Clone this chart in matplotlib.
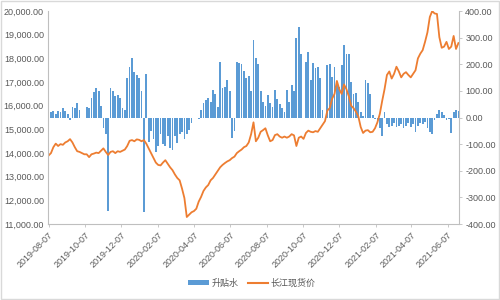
import matplotlib
matplotlib.use('Agg')
import matplotlib.pyplot as plt
import matplotlib.dates as mdates
from matplotlib.patches import Patch, Rectangle
from matplotlib.lines import Line2D
from matplotlib.ticker import FuncFormatter, MultipleLocator
import pandas as pd

plt.rcParams['font.family'] = ['Liberation Sans', 'Noto Sans CJK SC', 'DejaVu Sans']

start_date = '2019-08-07'

# 长江现货价 (left axis), sampled every 4 days
price = [
    13900, 14000, 14250, 14400, 14300, 14380, 14350, 14450, 14500, 14590,
    14450, 14250, 14080, 14050, 14000, 13950, 13950, 13830, 13950, 13980,
    14020, 14000, 14100, 14200, 14050, 13920, 14050, 14080, 14000, 14080,
    14050, 14100, 14150, 14300, 14520, 14550, 14500, 14580, 14560, 14500,
    14550, 14400, 14200, 14000, 13800, 13600, 13500, 13480, 13600, 13700,
    13550, 13400, 13280, 13100, 12950, 12850, 12500, 12100, 11300, 11400,
    11500, 11550, 11650, 11950, 12150, 12400, 12550, 12650, 12850, 12950,
    13100, 13250, 13400, 13500, 13580, 13650, 13700, 13790, 13850, 14000,
    14080, 14150, 14250, 14300, 14450, 14800, 15300, 14500, 14650, 14900,
    14970, 15050, 14750, 14500, 14550, 14760, 14800, 14700, 14650, 14700,
    14650, 14700, 14800, 14750, 14300, 14650, 14700, 14600, 14850, 14950,
    14900, 14880, 14930, 14900, 15050, 15200, 15350, 15800, 15900, 16300,
    16500, 17050, 16700, 16500, 16900, 16700, 16400, 16000, 15900, 15750,
    15550, 15100, 14850, 14950, 14970, 14880, 14900, 15050, 15300, 15650,
    16200, 16700, 17300, 17450, 17150, 17350, 17650, 17450, 17200, 17350,
    17420, 17300, 17200, 17350, 17500, 18000, 18200, 18350, 18700, 19100,
    19750, 20000, 19900, 19880, 18900, 18450, 18500, 18700, 18400, 18500,
    18950, 18400, 18650,
]

# 升贴水 (right axis), same sampling
premium = [
    30, 20, 25, 15, 25, 20, 35, 25, 15, -8,
    40, 35, 55, 30, 0, 0, 40, 35, 75, 95,
    110, 100, 45, -40, -60, -350, 110, 100, 80, 85,
    75, 35, 30, 150, 190, 225, 170, 160, 150, 100,
    -355, 165, -90, -50, -80, -130, -105, -60, -100, -105,
    -70, -115, -120, -70, -95, -60, -55, -80, -60, -45,
    -20, 0, 0, -5, 30, 55, 65, 75, 60, 103,
    90, 40, 208, 110, 115, 140, 100, -75, -50, 208,
    205, 200, 175, 150, 155, 100, 290, 225, 200, 100,
    60, 45, 85, 55, 38, 103, 70, 50, 35, 20,
    103, 60, 122, 100, 300, 340, 240, 0, 208, 245,
    140, 205, 185, 190, 150, 30, 0, 197, 200, 152,
    190, 133, 115, 197, 272, 240, 240, 133, 90, 92,
    60, 20, 5, 140, 130, 90, 10, -5, -20, -40,
    -70, 20, -25, -35, -30, -20, -35, -30, -25, -40,
    -30, -20, -35, -25, -55, -30, -20, -25, -15, -40,
    -55, -60, -10, 15, 28, 20, 10, -10, -5, -58,
    20, 28, 25,
]

tick_labels = ['2019-08-07', '2019-10-07', '2019-12-07', '2020-02-07',
               '2020-04-07', '2020-06-07', '2020-08-07', '2020-10-07',
               '2020-12-07', '2021-02-07', '2021-04-07', '2021-06-07']

price_dates = pd.date_range(start_date, periods=len(price), freq='4D')
premium_dates = pd.date_range(start_date, periods=len(premium), freq='4D')

blue = '#5B9BD5'
orange = '#ED7D31'
txt = '#595959'
axc = '#BFBFBF'

fig = plt.figure(figsize=(5, 3), dpi=100)
fig.patches.append(Rectangle((0.001, 0.002), 0.997, 0.995, transform=fig.transFigure,
                             fill=False, edgecolor='#D9D9D9', linewidth=1))

ax = fig.add_axes([0.096, 0.253, 0.822, 0.71])
ax2 = ax.twinx()

ax2.bar(premium_dates, premium, width=3.0, color=blue, linewidth=0)
ax.plot(price_dates, price, color=orange, linewidth=1.3)

ax.set_zorder(ax2.get_zorder() + 1)
ax.patch.set_visible(False)

ax.set_ylim(11000, 20000)
ax.yaxis.set_major_locator(MultipleLocator(1000))
ax.yaxis.set_major_formatter(FuncFormatter(lambda v, p: f'{v:,.2f}'))
ax2.set_ylim(-400, 400)
ax2.yaxis.set_major_locator(MultipleLocator(100))
ax2.yaxis.set_major_formatter(FuncFormatter(lambda v, p: f'{v:.2f}'))

x0 = price_dates[0] - pd.Timedelta(days=1)
x1 = price_dates[-1] + pd.Timedelta(days=1)
ax.set_xlim(x0, x1)
ticks = [mdates.date2num(pd.Timestamp(t)) for t in tick_labels]
ax.set_xticks(ticks)
ax.set_xticklabels(tick_labels, rotation=45, ha='right', rotation_mode='anchor')

for a in (ax, ax2):
    for s in a.spines.values():
        s.set_visible(False)
    a.tick_params(labelsize=6.5, colors=txt, length=2.5, width=0.6, color=axc, pad=2)
ax.spines['bottom'].set_visible(True)
ax.spines['bottom'].set_color(axc)
ax.spines['left'].set_visible(True)
ax.spines['left'].set_color(axc)
ax2.spines['right'].set_visible(True)
ax2.spines['right'].set_color(axc)
ax.tick_params(axis='y', length=0, pad=3)

handles = [Patch(facecolor=blue, edgecolor='none'),
           Line2D([0], [0], color=orange, linewidth=1.5)]
fig.legend(handles, ['升贴水', '长江现货价'], loc='center', bbox_to_anchor=(0.504, 0.057),
           ncol=2, frameon=False, fontsize=6.5, labelcolor=txt,
           handlelength=2.3, handleheight=0.6, columnspacing=1.0, handletextpad=0.3)

fig.savefig('out.png', dpi=100)
